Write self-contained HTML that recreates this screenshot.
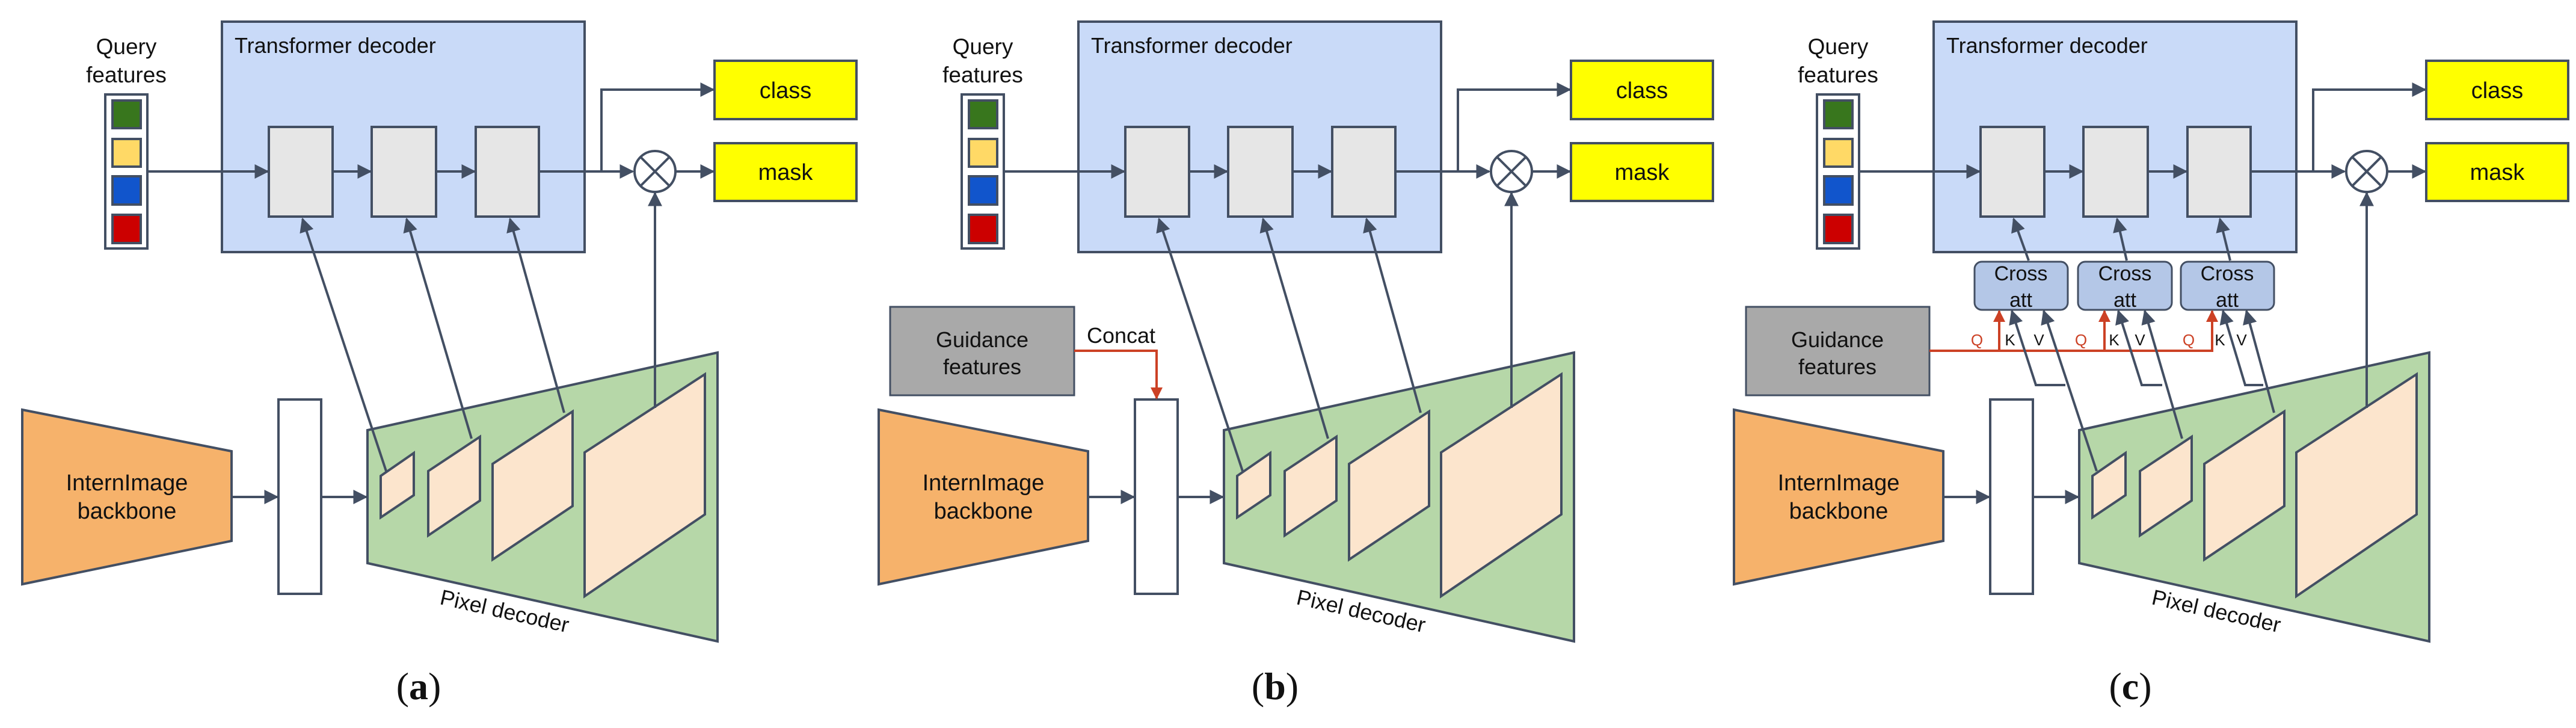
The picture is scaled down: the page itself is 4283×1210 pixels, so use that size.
<!DOCTYPE html>
<html><head><meta charset="utf-8"><style>
html,body{margin:0;padding:0;background:#fff;}
svg{display:block;}
text{font-family:"Liberation Sans",Arial,sans-serif;fill:#111;}
</style></head><body>
<svg width="4283" height="1210" viewBox="0 0 4283 1210" xmlns="http://www.w3.org/2000/svg">
<defs>
<marker id="ar" viewBox="0 0 10 10" refX="9" refY="5" markerWidth="6" markerHeight="6" markerUnits="strokeWidth" orient="auto"><path d="M0,0 L10,5 L0,10 z" fill="#434f63"/></marker>
<marker id="rr" viewBox="0 0 10 10" refX="9" refY="5" markerWidth="5" markerHeight="5" markerUnits="strokeWidth" orient="auto"><path d="M0,0 L10,5 L0,10 z" fill="#cc4125"/></marker>
<g id="base" stroke="#434f63" stroke-width="4">
  <rect x="369" y="36" width="603" height="383" fill="#c9daf8"/>
  <text x="390" y="88" font-size="36" stroke="none">Transformer decoder</text>
  <text x="210" y="90" font-size="37" text-anchor="middle" stroke="none">Query</text>
  <text x="210" y="137" font-size="37" text-anchor="middle" stroke="none">features</text>
  <rect x="175" y="157" width="70" height="256" fill="#fff"/>
  <rect x="187" y="167" width="47" height="46" fill="#38761d"/>
  <rect x="187" y="231" width="47" height="46" fill="#ffd966"/>
  <rect x="187" y="293" width="47" height="47" fill="#1155cc"/>
  <rect x="187" y="357" width="47" height="47" fill="#cc0000"/>
  <rect x="447" y="211" width="106" height="149" fill="#e6e6e6"/>
  <rect x="618" y="211" width="107" height="149" fill="#e6e6e6"/>
  <rect x="791" y="211" width="105" height="149" fill="#e6e6e6"/>
  <line x1="245" y1="285" x2="445" y2="285" marker-end="url(#ar)"/>
  <line x1="553" y1="285" x2="616" y2="285" marker-end="url(#ar)"/>
  <line x1="725" y1="285" x2="789" y2="285" marker-end="url(#ar)"/>
  <line x1="896" y1="285" x2="1052" y2="285" marker-end="url(#ar)"/>
  <polyline points="1000,285 1000,149 1186,149" fill="none" marker-end="url(#ar)"/>
  <line x1="1124" y1="285" x2="1186" y2="285" marker-end="url(#ar)"/>
  <circle cx="1089" cy="285" r="34" fill="#fff"/>
  <line x1="1065" y1="261" x2="1113" y2="309"/><line x1="1113" y1="261" x2="1065" y2="309"/>
  <rect x="1188" y="101" width="236" height="97" fill="#ffff00"/>
  <text x="1306" y="163" font-size="38" text-anchor="middle" stroke="none">class</text>
  <rect x="1188" y="238" width="236" height="96" fill="#ffff00"/>
  <text x="1306" y="299" font-size="38" text-anchor="middle" stroke="none">mask</text>
  <polygon points="37,681 385,750 385,899 37,971" fill="#f6b26b"/>
  <text x="211" y="815" font-size="38" text-anchor="middle" stroke="none">InternImage</text>
  <text x="211" y="862" font-size="38" text-anchor="middle" stroke="none">backbone</text>
  <rect x="463" y="664" width="71" height="323" fill="#fff"/>
  <line x1="385" y1="826" x2="461" y2="826" marker-end="url(#ar)"/>
  <line x1="534" y1="826" x2="609" y2="826" marker-end="url(#ar)"/>
  <polygon points="611,715 1193,586 1193,1066 611,936" fill="#b6d7a8"/>
  <polygon points="633,791 688,753 688,823 633,860" fill="#fce5cd"/>
  <polygon points="712,783 798,726 798,832 712,890" fill="#fce5cd"/>
  <polygon points="819,771 952,684 952,841 819,930" fill="#fce5cd"/>
  <polygon points="972,752 1172,622 1172,855 972,991" fill="#fce5cd"/>
  <line x1="1089" y1="678" x2="1089" y2="321" marker-end="url(#ar)"/>
  <text x="839" y="1028" font-size="36" text-anchor="middle" stroke="none" transform="rotate(12.6 839 1016)">Pixel decoder</text>
</g>
<g id="plainarrows" stroke="#434f63" stroke-width="4">
  <line x1="642" y1="783" x2="503" y2="364" marker-end="url(#ar)"/>
  <line x1="784" y1="729" x2="676" y2="364" marker-end="url(#ar)"/>
  <line x1="938" y1="686" x2="848" y2="364" marker-end="url(#ar)"/>
</g>
</defs>

<!-- (a) -->
<use href="#base"/>
<use href="#plainarrows"/>
<text x="696" y="1162" font-size="64" text-anchor="middle" style="font-family:'Liberation Serif',serif">(<tspan font-weight="bold">a</tspan>)</text>

<!-- (b) -->
<g transform="translate(1424,0)">
  <use href="#base"/>
  <use href="#plainarrows"/>
  <rect x="56" y="510" width="306" height="147" fill="#a9a9a9" stroke="#434f63" stroke-width="3"/>
  <text x="209" y="577" font-size="36" text-anchor="middle">Guidance</text>
  <text x="209" y="622" font-size="36" text-anchor="middle">features</text>
  <text x="440" y="570" font-size="36" text-anchor="middle">Concat</text>
  <polyline points="362,583 499,583 499,662" fill="none" stroke="#cc4125" stroke-width="4" marker-end="url(#rr)"/>
  <text x="696" y="1162" font-size="64" text-anchor="middle" style="font-family:'Liberation Serif',serif">(<tspan font-weight="bold">b</tspan>)</text>
</g>

<!-- (c) -->
<g transform="translate(2846,0)">
  <use href="#base"/>
  <g stroke="#434f63" stroke-width="4" fill="none">
    <line x1="527" y1="433" x2="502" y2="364" marker-end="url(#ar)"/>
    <line x1="690" y1="433" x2="674" y2="364" marker-end="url(#ar)"/>
    <line x1="862" y1="433" x2="845" y2="364" marker-end="url(#ar)"/>
  </g>
  <g stroke="#434f63" stroke-width="3" fill="#b4c7e7">
    <rect x="437" y="435" width="155" height="80" rx="12"/>
    <rect x="609" y="435" width="156" height="80" rx="12"/>
    <rect x="780" y="435" width="155" height="80" rx="12"/>
  </g>
  <g font-size="34" text-anchor="middle">
    <text x="514" y="466">Cross</text><text x="514" y="510">att</text>
    <text x="687" y="466">Cross</text><text x="687" y="510">att</text>
    <text x="857" y="466">Cross</text><text x="857" y="510">att</text>
  </g>
  <rect x="57" y="510" width="305" height="147" fill="#a9a9a9" stroke="#434f63" stroke-width="3"/>
  <text x="209" y="577" font-size="36" text-anchor="middle">Guidance</text>
  <text x="209" y="622" font-size="36" text-anchor="middle">features</text>
  <g stroke="#cc4125" stroke-width="4" fill="none">
    <line x1="362" y1="583" x2="834" y2="583"/>
    <line x1="478" y1="583" x2="478" y2="517" marker-end="url(#rr)"/>
    <line x1="653" y1="583" x2="653" y2="517" marker-end="url(#rr)"/>
    <line x1="832" y1="583" x2="832" y2="517" marker-end="url(#rr)"/>
  </g>
  <g stroke="#434f63" stroke-width="4" fill="none">
    <line x1="640" y1="783" x2="552" y2="517" marker-end="url(#ar)"/>
    <polyline points="588,640 539,640 499,517" marker-end="url(#ar)"/>
    <line x1="782" y1="729" x2="720" y2="517" marker-end="url(#ar)"/>
    <polyline points="749,640 715,640 676,517" marker-end="url(#ar)"/>
    <line x1="935" y1="686" x2="889" y2="517" marker-end="url(#ar)"/>
    <polyline points="917,640 887,640 850,517" marker-end="url(#ar)"/>
  </g>
  <g font-size="26" text-anchor="middle">
    <text x="441" y="574" style="fill:#cc4125">Q</text>
    <text x="614" y="574" style="fill:#cc4125">Q</text>
    <text x="793" y="574" style="fill:#cc4125">Q</text>
    <text x="496" y="574">K</text><text x="544" y="574">V</text>
    <text x="669" y="574">K</text><text x="712" y="574">V</text>
    <text x="845" y="574">K</text><text x="881" y="574">V</text>
  </g>
  <text x="696" y="1162" font-size="64" text-anchor="middle" style="font-family:'Liberation Serif',serif">(<tspan font-weight="bold">c</tspan>)</text>
</g>
</svg>
</body></html>
